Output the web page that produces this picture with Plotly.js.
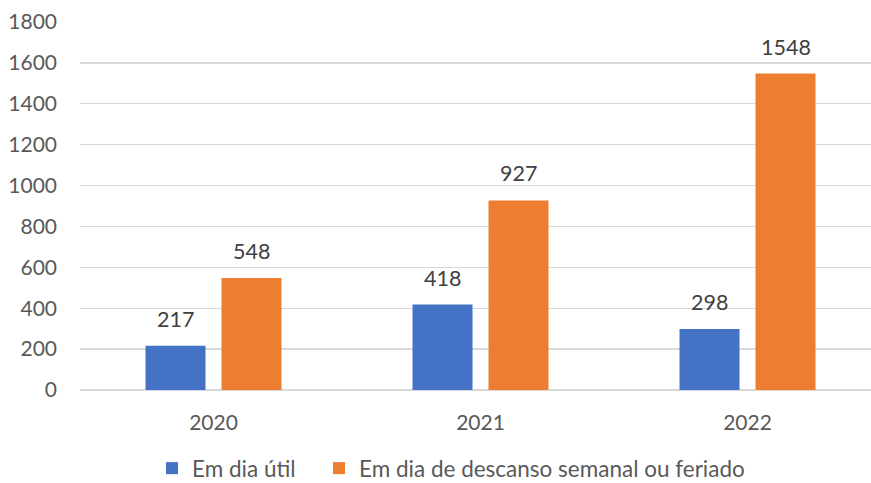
<!DOCTYPE html>
<html><head><meta charset="utf-8">
<script src="https://cdn.plot.ly/plotly-3.0.1.min.js"></script>
<style>html,body{margin:0;padding:0;background:#fff;overflow:hidden}</style>
</head><body>
<div id="chart" style="width:871px;height:483px"></div>
<script>
const categories = ['2020', '2021', '2022'];
const diaUtil = [217, 418, 298];
const descanso = [548, 927, 1548];
const seriesNames = ['Em dia útil', 'Em dia de descanso semanal ou feriado'];
const yTicks = [0, 200, 400, 600, 800, 1000, 1200, 1400, 1600, 1800];

const FONT = 'Lato, "Noto Sans", sans-serif';
const traces = [
  {type:'bar', x:categories, y:diaUtil, name:seriesNames[0], marker:{color:'#4472C4'}, hoverinfo:'none', legend:'legend'},
  {type:'bar', x:categories, y:descanso, name:seriesNames[1], marker:{color:'#ED7D31'}, hoverinfo:'none', legend:'legend2'}
];
const labelFont = {family:FONT, size:21.5, color:'#404040'};
const annotations = [];
[[diaUtil, -38], [descanso, 38]].forEach(([vals, dx]) => {
  vals.forEach((v, i) => annotations.push({
    x: i, y: v, xref:'x', yref:'y', text: String(v),
    showarrow:false, xanchor:'center', yanchor:'bottom', xshift:dx, yshift:12,
    font: labelFont
  }));
});
const legendFont = {family:FONT, size:22.5, color:'#595959'};
const layout = {
  width:871, height:483,
  margin:{l:80, r:0, t:22, b:93},
  paper_bgcolor:'#fff', plot_bgcolor:'#fff',
  font:{family:FONT, size:21, color:'#595959'},
  barmode:'group', bargap:0.4307, bargroupgap:0.2105,
  xaxis:{type:'category', range:[-0.5, 2.4625], showgrid:false, zeroline:false, automargin:false,
         showline:false, ticks:'', ticklabelstandoff:18, tickfont:{family:FONT, size:21, color:'#595959'}},
  yaxis:{range:[0,1800], tickvals:yTicks, ticktext:yTicks.map(String), showgrid:true, automargin:false,
         gridcolor:'#D9D9D9', gridwidth:1.3, zeroline:true, zerolinecolor:'#D9D9D9', zerolinewidth:1.3,
         showline:false, ticks:'', ticklabelstandoff:22, tickfont:{family:FONT, size:21, color:'#595959'}},
  annotations: annotations,
  showlegend:true,
  legend:{orientation:'h', xref:'container', x:152/871, xanchor:'left', yref:'container', y:0.03, yanchor:'middle',
          font:legendFont, itemwidth:30},
  legend2:{orientation:'h', xref:'container', x:319/871, xanchor:'left', yref:'container', y:0.03, yanchor:'middle',
          font:legendFont, itemwidth:30}
};
Plotly.newPlot('chart', traces, layout, {staticPlot:true, displayModeBar:false});
</script>
</body></html>
